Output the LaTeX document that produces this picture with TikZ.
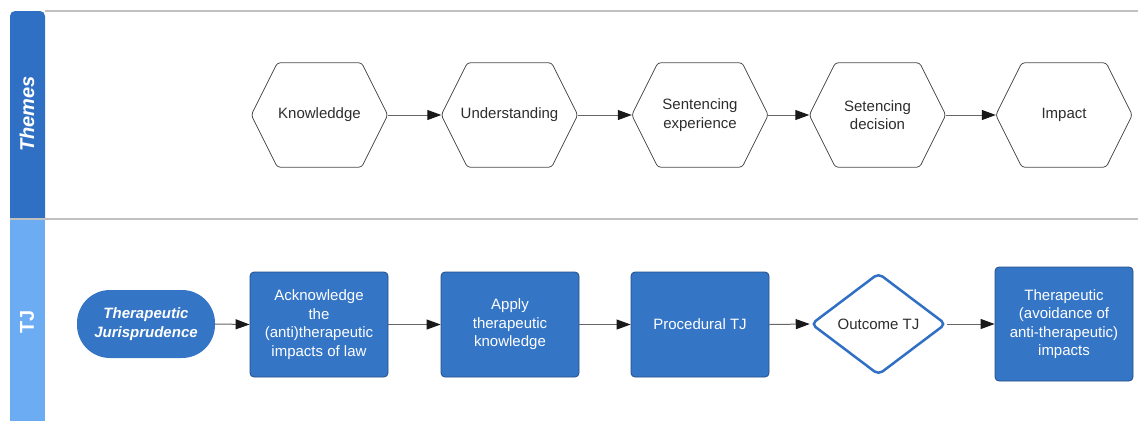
\documentclass[tikz,border=0pt]{standalone}
\usepackage{fontspec}
\setmainfont{Liberation Sans}
\usetikzlibrary{shapes.geometric,arrows.meta}
\definecolor{boxblue}{RGB}{52,117,198}
\definecolor{darkhead}{RGB}{47,112,196}
\definecolor{lighthead}{RGB}{108,172,243}
\definecolor{framegray}{RGB}{192,192,192}
\definecolor{txtgray}{RGB}{45,45,45}
\definecolor{boxedge}{RGB}{38,78,135}
\begin{document}
\begin{tikzpicture}[x=1pt,y=-1pt,
  lbl/.style={font=\fontsize{15}{18.5}\selectfont,align=center},
  hexbox/.style={lbl,minimum width=136pt,minimum height=104pt,inner sep=0pt,text=txtgray},
  hexline/.style={draw=black!70,line width=0.8pt,rounded corners=3pt},
  bluebox/.style={lbl,draw=boxedge,line width=0.8pt,fill=boxblue,rounded corners=4pt,minimum width=138pt,minimum height=105pt,inner sep=0pt,text=white},
  flow/.style={draw=black!60,line width=1pt,-{Triangle[length=14pt,width=10pt,color=black!90]}},
  lanelabel/.style={rotate=90,text=white,font=\bfseries\fontsize{20}{24}\selectfont},
]
\useasboundingbox (0,0) rectangle (1138,421);
% lane headers
\fill[darkhead] (10,219) [rounded corners=5pt] -- (10,11) -- (45,11) [sharp corners] -- (45,219) -- cycle;
\fill[lighthead] (10,219) rectangle (45,421);
\draw[framegray,line width=1.5pt] (45,11) -- (1138,11);
\draw[framegray,line width=1.5pt] (10,219) -- (1138,219);
\node[lanelabel,font=\bfseries\itshape\fontsize{20}{24}\selectfont] (themes) at (27,114) {Themes};
\node[lanelabel] (tjl) at (27,322) {TJ};
% themes row
\node[hexbox] (k)  at (319.5,115) {Knowleddge};
\node[hexbox] (u)  at (509.5,115) {Understanding};
\node[hexbox] (se) at (700,115)   {Sentencing\\experience};
\node[hexbox] (sd) at (877.5,115) {Setencing\\decision};
\node[hexbox] (im) at (1064,115)  {Impact};
\foreach \n in {k,u,se,sd,im}{
  \draw[hexline] (\n.west) -- ([xshift=26pt]\n.north west) -- ([xshift=-26pt]\n.north east) -- (\n.east) -- ([xshift=-26pt]\n.south east) -- ([xshift=26pt]\n.south west) -- cycle;
}
\draw[flow] (k.east) -- (u.west);
\draw[flow] (u.east) -- (se.west);
\draw[flow] (se.east) -- (sd.west);
\draw[flow] (sd.east) -- (im.west);
% TJ row
\node[lbl,fill=boxblue,rounded corners=33pt,minimum width=138pt,minimum height=68pt,inner sep=0pt,text=white,font=\bfseries\itshape\fontsize{15}{18.5}\selectfont] (tj) at (146,324) {Therapeutic\\Jurisprudence};
\node[bluebox] (ack) at (319,324.5) {Acknowledge\\the\\(anti)therapeutic\\impacts of law};
\node[bluebox] (app) at (510,324.5) {Apply\\therapeutic\\knowledge};
\node[bluebox] (proc) at (700,324.5) {Procedural TJ};
\node[lbl,diamond,aspect=1.3,draw=darkhead,line width=2.5pt,fill=white,rounded corners=5pt,minimum width=135pt,minimum height=102pt,inner sep=0pt,text=txtgray] (out) at (878.5,324) {Outcome TJ};
\node[bluebox,minimum height=114pt] (ther) at (1064,324) {Therapeutic\\(avoidance of\\anti-therapeutic)\\impacts};
\draw[flow] (tj.east) -- (ack.west);
\draw[flow] (ack.east) -- (app.west);
\draw[flow] (app.east) -- (proc.west);
\draw[flow] (proc.east) -- (out.west);
\draw[flow] (out.east) -- (ther.west);
\end{tikzpicture}
\end{document}
